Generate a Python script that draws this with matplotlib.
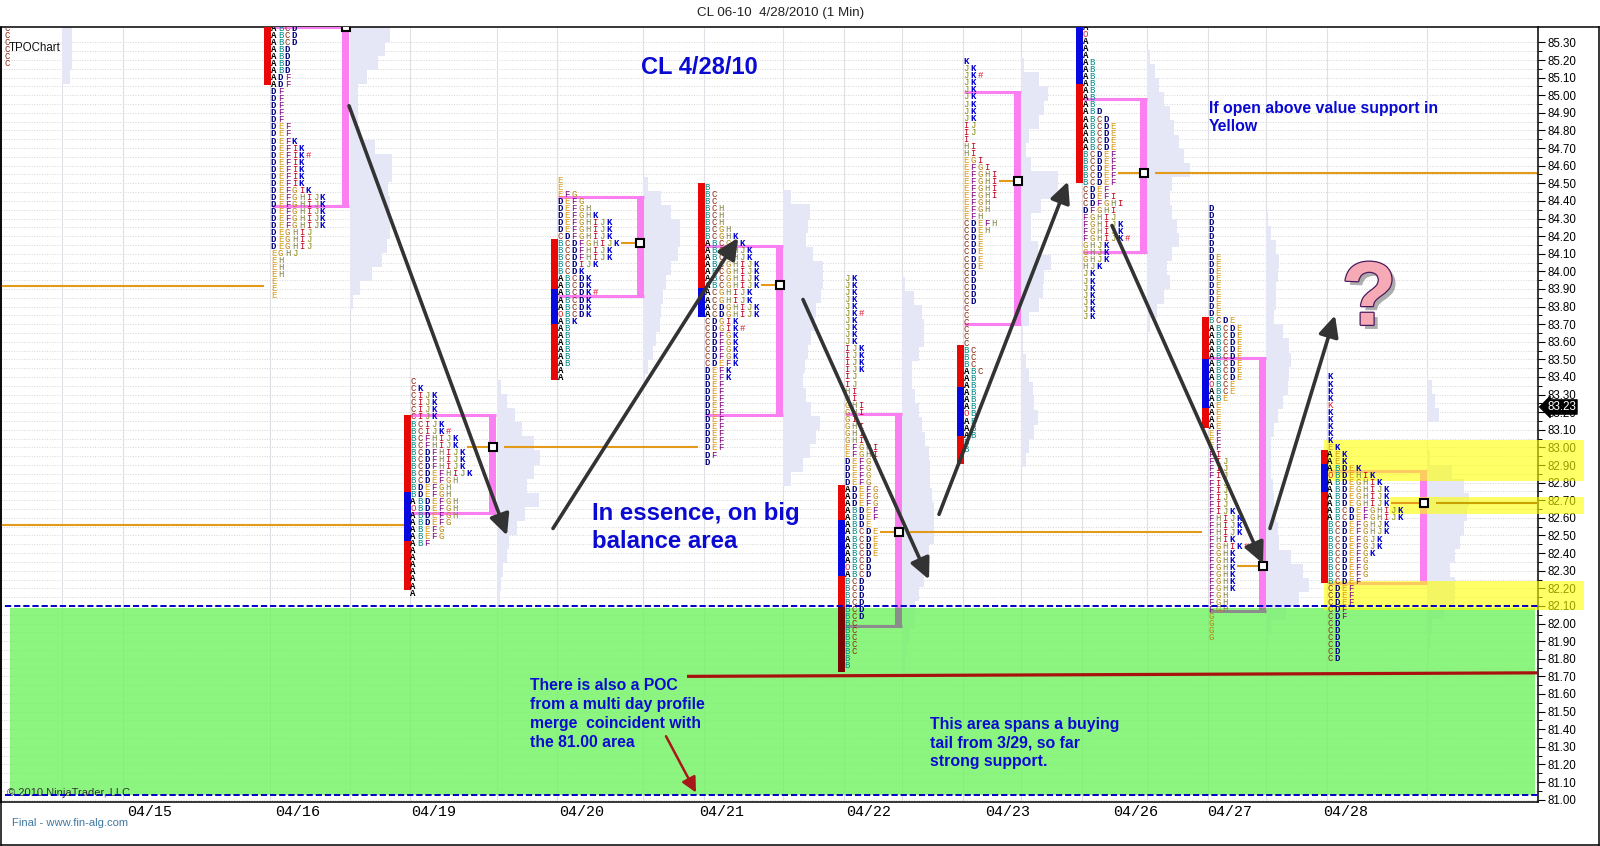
#!/usr/bin/env python3
"""CL 06-10 market profile (TPO) chart, 4/28/2010."""

import matplotlib
matplotlib.use("Agg")
import matplotlib.pyplot as plt
import matplotlib.patheffects as pe
from matplotlib.lines import Line2D
from matplotlib.ticker import FixedLocator, FormatStrFormatter

# ---------------------------------------------------------------------------
# Data: x positions are chart columns, y values are prices
# ---------------------------------------------------------------------------

DATE_LABELS = ["04/15", "04/16", "04/19", "04/20", "04/21", "04/22", "04/23", "04/26", "04/27", "04/28"]
DATE_TICKS = [150, 298, 434, 582, 722, 869, 1008, 1136, 1230, 1346]

ROW_STEP = 0.04      # one TPO row
PROFILE_STEP = 0.08  # one row of the shaded profile

tpo_0415 = ["C"] * 6
tpo_0416 = (["ABCD"] * 3 + ["ABD"] * 4 + ["ADF"] * 2 + ["DF"] * 5 + ["DEF"] * 2 + ["DEFK", "DEFIK", "DEFIK#"]
            + ["DEFIK"] * 4 + ["DEFGIK"] + ["DEFGHIJK"] * 5 + ["DEGHIJ"] * 3 + ["EGHJ"] + ["EH"] * 3 + ["E"] * 3)
tpo_0419 = (["C", "CK"] + ["CIJK"] * 4 + ["BCIJK", "BCIJK#", "BCFHIJK", "BCFHIJK"] + ["BCDFHIJK"] * 3
            + ["BCDEFHIJK", "BCDEFGH", "BDEFGH", "BDEFGH", "ABDEFGH", "OBDEFGH", "ABDEFGH", "ABDEFG",
               "ABEFG", "ABEFG", "ABF"] + ["A"] * 7)
tpo_0420 = (["E", "E", "EFG", "DEFG", "DEFGH", "DEFGHK", "DEFGHIJK", "DEFGHIJK", "CDFGHIJK", "BCDFGHIJK",
             "BCDFHIJK", "BCDFHIJK", "BCDIJK", "BCDK", "ABCDK", "ABCDK", "ABCDK#", "ABCDK", "ABCDK",
             "OBCDK", "ABK"] + ["AB"] * 6 + ["A", "A"])
tpo_0421 = (["B", "BC", "BC", "BCH", "BCH", "BCH", "BCGH", "BCGHK", "ABCGHK", "ABCGHJK", "ABCGHJK"]
            + ["ABCGHIJK"] * 4 + ["ACGHIJK"] * 2 + ["ACDGHIJK"] * 2 + ["CDGIK", "CDGIK#"] + ["CDFGK"] * 4
            + ["CDEFK", "DEFK", "DEFK"] + ["DEF"] * 10 + ["DF", "D"])
tpo_0422 = (["JK"] * 5 + ["JK#"] + ["JK"] * 4 + ["IJK"] * 4 + ["IJ"] * 2 + ["HI"] * 2 + ["GHI"] * 2 + ["GI"]
            + ["GHI"] * 3 + ["EFGHI"] * 2 + ["DEFG"] * 4 + ["ADEFG"] * 3 + ["ABDEF"] * 2 + ["ABDE"]
            + ["ABCDE"] * 4 + ["ABCD", "OBCD", "ABCD"] + ["BCD"] * 6 + ["BC"] * 5 + ["B"] * 2)
tpo_0423 = (["K", "JK", "JK#"] + ["JK"] * 6 + ["IJ", "IJ", "I", "HI", "HI", "EGI", "EFGI"] + ["EFGHI"] * 4
            + ["EFGH", "EFGH", "EFH", "CDEFH", "CDEH"] + ["CDE"] * 5 + ["CD"] * 5 + ["C"] * 6 + ["BC"] * 3
            + ["ABC"] + ["AB"] * 5 + ["OB"] + ["AB"] * 3 + ["B", "B"])
tpo_0426 = (["A", "O", "A", "A", "A"] + ["AB"] * 7 + ["ABD", "ABCD"] + ["ABCDE"] * 4 + ["BCDEF"] * 5
            + ["CDEF", "CDEFI", "CDFGHI", "DFGHI", "FGHIJ", "FGHIJK", "FGHIJK", "FGHIJK#"] + ["GHJK"] * 3
            + ["HJK"] + ["JK"] * 7)
tpo_0427 = (["D"] * 7 + ["DE"] * 9 + ["BCDE"] + ["ABCDE"] * 8 + ["OBCE", "ABCE", "ABE"] + ["AE"] * 4 + ["EF"] * 3
            + ["FI"] + ["FIJ"] * 7 + ["FIJK"] + ["FHIJK"] * 3 + ["FHIK", "FGHIK#"] + ["FGHK"] * 6
            + ["FGH"] * 3 + ["G"] * 4)
tpo_0428 = (["K"] * 4 + ["k"] + ["K"] * 5 + ["EK", "AEK", "AEK", "ABDEK", "OBDEHIK", "ABDEGHIK"]
            + ["ABDEGHIJK"] * 3 + ["ABCDEFGHIJK"] * 2 + ["BCDEFGHJK"] * 2 + ["BCDEFGJK"] * 2 + ["BCDEFGK"]
            + ["BCDEFG"] * 3 + ["BCDEF"] + ["CDEF"] * 3 + ["CDF"] * 2 + ["CD"] * 6)

TPO_ROWS = [tpo_0415, tpo_0416, tpo_0419, tpo_0420, tpo_0421, tpo_0422, tpo_0423, tpo_0426, tpo_0427, tpo_0428]
TPO_TOP = [85.38, 85.38, 83.373, 84.517, 84.477, 83.96, 85.19, 85.385, 84.358, 83.40]
TPO_X = [7, 273.5, 413, 560.3, 707.3, 847.3, 966.3, 1085.3, 1211.3, 1330]

# opening range bars: column, then (high, low, colour name)
BAR_X = [264, 404, 551, 698, 838, 957, 1076, 1202, 1321]
opening_0416 = [(85.385, 85.06, "red")]
opening_0419 = [(83.184, 82.747, "red"), (82.747, 82.469, "blue"), (82.469, 82.19, "red")]
opening_0420 = [(84.184, 83.90, "red"), (83.90, 83.70, "blue"), (83.70, 83.383, "red")]
opening_0421 = [(84.503, 83.905, "red"), (83.905, 83.742, "blue")]
opening_0422 = [(82.787, 82.588, "red"), (82.588, 82.27, "blue"), (82.27, 82.096, "red"), (82.096, 81.725, "maroon")]
opening_0423 = [(83.582, 83.343, "red"), (83.343, 83.067, "blue"), (83.067, 82.906, "red")]
opening_0426 = [(85.385, 85.064, "blue"), (85.064, 84.503, "red")]
opening_0427 = [(83.742, 83.502, "red"), (83.502, 83.224, "blue"), (83.224, 83.11, "red")]
opening_0428 = [(82.985, 82.906, "red"), (82.906, 82.747, "blue"), (82.747, 82.232, "red")]
OPENINGS = [opening_0416, opening_0419, opening_0420, opening_0421, opening_0422,
            opening_0423, opening_0426, opening_0427, opening_0428]

# value areas and points of control
VA_LEFT = [272, 411, 558, 705, 845, 964, 1083, 1209, 1328]
VA_BAR = [342, 489, 636.7, 776.3, 895.3, 1014.3, 1140, 1259, 1420]
VA_HIGH = [85.385, 83.184, 84.424, 84.144, 83.188, 85.02, 84.979, 83.506, 82.866]
VA_LOW = [84.372, 82.63, 83.862, 83.184, 81.988, 83.70, 84.108, 82.073, 82.232]
POC_PRICE = [85.385, 83.00, 84.16, 83.92, 82.52, 84.515, 84.556, 82.325, 82.685]
POC_STUB = [None, 467, 621, 761, 880, 999, 1118, 1237, 1391]

# naked POC lines carried forward: start column, end column, price
NAKED_START = [1, 1, 504, 910, 1155, 1436]
NAKED_END = [264, 404, 698, 1202, 1537, 1537]
NAKED_PRICE = [83.918, 82.56, 83.00, 82.52, 84.556, 82.685]

# shaded profiles, widths read in chart columns from the top row down
PROFILE_BASE = [62, 350, 497, 643, 783, 902, 1021, 1147, 1266, 1427]
PROFILE_TOP = [85.385, 85.385, 83.383, 84.537, 84.46, 83.97, 85.21, 85.257, 84.339, 83.383]
profile_0415 = [10, 10, 10, 8]
profile_0416 = [40, 35, 28, 17, 8, 8, 8, 10, 25, 42, 42, 38, 40, 40, 40, 37, 32, 22, 10, 3]
profile_0419 = [4, 10, 18, 25, 37, 43, 37, 30, 42, 28, 20, 12, 10, 6, 4, 3]
profile_0420 = [5, 18, 28, 37, 37, 35, 28, 23, 20, 18, 17, 13, 10, 5, 2]
profile_0421 = [8, 27, 25, 23, 30, 40, 40, 38, 33, 32, 28, 25, 22, 20, 23, 28, 37, 33, 27, 20, 8]
profile_0422 = [3, 12, 20, 22, 22, 17, 10, 10, 13, 17, 20, 23, 27, 28, 28, 30, 32, 32, 32, 27, 25, 22, 17, 13, 13, 8, 5, 3]
profile_0423 = [3, 18, 27, 23, 18, 8, 5, 10, 37, 37, 20, 10, 10, 17, 30, 23, 22, 18, 8, 2, 2, 5, 8, 12, 13, 17, 13, 8, 5]
profile_0426 = [3, 8, 12, 17, 23, 27, 32, 37, 43, 25, 23, 25, 30, 32, 25, 20, 23, 17, 10, 3]
profile_0427 = [2, 5, 10, 13, 12, 10, 10, 8, 17, 23, 25, 23, 22, 17, 12, 8, 5, 5, 5, 7, 8, 10, 12, 13, 25, 37, 43, 33, 20, 5, 2]
profile_0428 = [5, 8, 12, 1, 1, 3, 25, 37, 42, 40, 37, 33, 28, 23, 28, 28, 17, 5, 3, 2]
PROFILES = [profile_0415, profile_0416, profile_0419, profile_0420, profile_0421, profile_0422,
            profile_0423, profile_0426, profile_0427, profile_0428]

# support zones
GREEN_TOP = 82.09
GREEN_BOTTOM = 81.026
YELLOW_LOW = [82.809, 82.622, 82.077]
YELLOW_HIGH = [83.042, 82.719, 82.242]
YELLOW_START = [1324, 1390, 1324]
DASHED_PRICES = [82.10, 81.026]
TAIL_X = [687, 1537]
TAIL_PRICE = [81.70, 81.72]
LAST_PRICE = 83.23

# hand drawn arrows: column from, price from, column to, price to
ARROW_X0 = [349, 553, 803, 939, 1112, 1270]
ARROW_P0 = [84.94, 82.54, 83.84, 82.62, 84.26, 82.54]
ARROW_X1 = [507, 738, 929, 1068, 1263, 1335]
ARROW_P1 = [82.50, 84.19, 82.25, 84.51, 82.34, 83.75]

NOTES = [
    "CL 4/28/10",
    "In essence, on big\nbalance area",
    "If open above value support in\nYellow",
    "There is also a POC\nfrom a multi day profile\nmerge  coincident with\nthe 81.00 area",
    "This area spans a buying\ntail from 3/29, so far\nstrong support.",
]
NOTE_X = [641, 592, 1209, 530, 930]
NOTE_PRICE = [85.22, 82.69, 84.97, 81.69, 81.47]
NOTE_SIZE = [17, 17.3, 11.4, 11.3, 11.4]
NOTE_SPACING = [1.13, 1.27, 1.3, 1.32, 1.3]

LETTER_COLORS = {
    "A": "#000000", "B": "#008b8b", "C": "#8b2a10", "D": "#000080", "E": "#dc9a14", "F": "#800080",
    "G": "#b8860b", "H": "#85854a", "I": "#c00020", "J": "#8a8a10", "K": "#0000cd", "O": "#e02020",
    "#": "#e01030", "k": "#e01030",
}
BAR_COLORS = {"red": "#e80808", "blue": "#0808e0", "maroon": "#7a0606"}
PINK = "#fb7ff0"
GREY_PINK = "#8c8c8c"
LAVENDER = "#e5e7f7"
ORANGE = "#e39a18"
BLUE_TEXT = "#0a0ad2"

# ---------------------------------------------------------------------------
# Plotting
# ---------------------------------------------------------------------------

plt.rcParams["font.family"] = ["Liberation Sans", "DejaVu Sans"]

W, H = 1600, 846
fig = plt.figure(figsize=(W / 100, H / 100), dpi=100)
ax = fig.add_axes([1 / W, 1 - 802 / H, 1537 / W, 774.5 / H])
ax.set_xlim(1, 1538)
ax.set_ylim(80.9866, 85.3846)

# frame and axes
for side in ("top", "bottom", "left", "right"):
    ax.spines[side].set_linewidth(1.1)
ax.yaxis.tick_right()
ax.yaxis.set_major_locator(FixedLocator([81 + i * 0.1 for i in range(44)]))
ax.yaxis.set_minor_locator(FixedLocator([81 + i * 0.05 for i in range(87)]))
ax.yaxis.set_major_formatter(FormatStrFormatter("%.2f"))
ax.tick_params(axis="y", which="major", length=5, width=0.8, pad=1.5, labelsize=8.3)
ax.tick_params(axis="y", which="minor", length=3, width=0.7)
ax.set_xticks(DATE_TICKS)
ax.set_xticklabels(DATE_LABELS, family="Liberation Mono", fontsize=10.8)
ax.tick_params(axis="x", length=0, pad=2.5)
ax.set_axisbelow(True)
ax.grid(axis="y", which="both", color="#d4d4d4", lw=0.7, ls=(0, (1, 1.6)))
for x0, y0, x1, y1 in [(1, 27.5, 1, 845), (1, 845, 1599, 845), (1599, 845, 1599, 27.5), (1538, 27.5, 1599, 27.5)]:
    fig.add_artist(Line2D([x0 / W, x1 / W], [1 - y0 / H, 1 - y1 / H], color="black", lw=1.1))

fig.text(781 / W, 1 - 13 / H, "CL 06-10  4/28/2010 (1 Min)", ha="center", va="center", fontsize=9.6, color="#222222")

# session separators and shaded profiles
ax.vlines([123] + [x + 6 for x in BAR_X] + PROFILE_BASE, 80.99, 85.38, color="#dfe0e6", lw=0.8, zorder=0.8)
for base, top, widths in zip(PROFILE_BASE, PROFILE_TOP, PROFILES):
    centres = [top - (i + 0.5) * PROFILE_STEP for i in range(len(widths))]
    ax.barh(centres, widths, height=PROFILE_STEP, left=base, color=LAVENDER, lw=0, zorder=1)

# support zones
ax.fill_between([10, 1535], GREEN_BOTTOM, GREEN_TOP, color="#70f360", alpha=0.8, lw=0, zorder=2)

# value area boxes
for left, bar, high, low in zip(VA_LEFT, VA_BAR, VA_HIGH, VA_LOW):
    line_color = GREY_PINK if low < GREEN_TOP else PINK
    ax.hlines(low, left, bar + 7, color=line_color, lw=2.2, capstyle="butt", zorder=2.6)
    ax.hlines(high, left, bar + 7, color=PINK, lw=2.2, capstyle="butt", zorder=2.6)
    ax.bar(bar + 3.5, high - max(low, GREEN_TOP), width=7, bottom=max(low, GREEN_TOP), color=PINK, lw=0, zorder=2.6)
    if low < GREEN_TOP:
        ax.bar(bar + 3.5, GREEN_TOP - low, width=7, bottom=low, color=GREY_PINK, lw=0, zorder=2.6)

for low, high, start in zip(YELLOW_LOW, YELLOW_HIGH, YELLOW_START):
    ax.fill_between([start, 1584], low, high, color="#ffff00", alpha=0.6, lw=0, zorder=2.8, clip_on=False)

# opening range bars
for x, segments in zip(BAR_X, OPENINGS):
    for high, low, name in segments:
        ax.bar(x + 3.5, high - low, width=7, bottom=low, color=BAR_COLORS[name], lw=0, zorder=3)

# TPO letters
for x0, top, rows in zip(TPO_X, TPO_TOP, TPO_ROWS):
    for r, row in enumerate(rows):
        for c, ch in enumerate(row):
            ax.text(x0 + c * 7, top - r * ROW_STEP, "K" if ch == "k" else ch, color=LETTER_COLORS[ch],
                    family="Liberation Mono", weight="bold" if ch in "ADK" else "normal", fontsize=6.5,
                    ha="center", va="center", clip_on=True, zorder=3.2)

# POC lines and squares
for start, end, price in zip(NAKED_START, NAKED_END, NAKED_PRICE):
    color = "#c8a000" if price == 82.685 else ORANGE
    ax.hlines(price, start, end, color=color, lw=1.5, capstyle="butt", zorder=3.4)
for bar, price, stub in zip(VA_BAR, POC_PRICE, POC_STUB):
    if stub is not None:
        ax.hlines(price, stub, bar - 1, color=ORANGE, lw=1.5, capstyle="butt", zorder=3.4)
    ax.plot([bar + 3.5], [price], marker="s", ms=6, mfc="white", mec="black", mew=1.5, ls="none", zorder=5)

# dashed levels and the buying tail line
ax.hlines(DASHED_PRICES, 5, 1538, color="#0000c4", lw=1.4, ls=(0, (3.2, 1.5)), zorder=5.5)
ax.plot(TAIL_X, TAIL_PRICE, color="#a8120e", lw=2.3, zorder=5.5, solid_capstyle="butt")

# arrows
for x0, p0, x1, p1 in zip(ARROW_X0, ARROW_P0, ARROW_X1, ARROW_P1):
    ax.annotate("", xy=(x1, p1), xytext=(x0, p0), zorder=7,
                arrowprops=dict(arrowstyle="-|>,head_length=1.15,head_width=0.55", color="#333333", lw=2.6,
                                mutation_scale=11, shrinkA=0, shrinkB=0))
ax.annotate("", xy=(696, 81.04), xytext=(666, 81.36), zorder=7,
            arrowprops=dict(arrowstyle="-|>,head_length=1.0,head_width=0.5", color="#a81818", lw=1.8,
                            mutation_scale=9, shrinkA=0, shrinkB=0))

# notes
for note, x, price, size, spacing in zip(NOTES, NOTE_X, NOTE_PRICE, NOTE_SIZE, NOTE_SPACING):
    ax.text(x, price, note, color=BLUE_TEXT, fontsize=size, weight="bold", ha="left", va="top",
            linespacing=spacing, zorder=8)

ax.text(1369, 83.83, "?", fontsize=65, weight="bold", color="#f6aab6", ha="center", va="center", zorder=8,
        path_effects=[pe.withSimplePatchShadow(offset=(3, -3), shadow_rgbFace="#777777", alpha=0.6),
                      pe.Stroke(linewidth=1.8, foreground="#4a1a5c"), pe.Normal()])

ax.text(9, 85.27, "TPOChart", fontsize=8.3, color="#111111", ha="left", va="center", zorder=8)
ax.text(7, 81.04, "\u00a9 2010 NinjaTrader, LLC", fontsize=8, color="#333333", ha="left", va="center", zorder=5)
ax.text(12, 80.87, "Final - www.fin-alg.com", fontsize=8.1, color="#3f78a0", ha="left", va="center", clip_on=False)

# last price flag
ax.text(1547, LAST_PRICE, f"{LAST_PRICE:.2f}", fontsize=8.4, color="white", ha="left", va="center", clip_on=False,
        zorder=9, bbox=dict(boxstyle="larrow,pad=0.12", fc="black", ec="black", lw=0.5))

fig.savefig("out.png", dpi=100)
